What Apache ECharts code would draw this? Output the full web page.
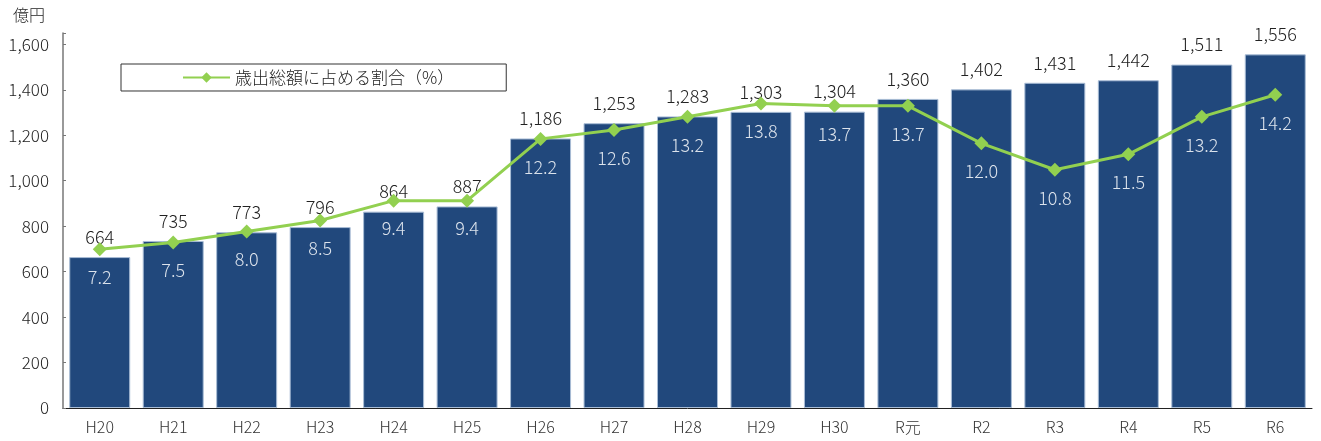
<!DOCTYPE html>
<html>
<head>
<meta charset="utf-8">
<script src="https://cdn.jsdelivr.net/npm/echarts@6/dist/echarts.min.js"></script>
<style>
html,body{margin:0;padding:0;background:#fff;}
#c{width:1321px;height:441px;}
</style>
</head>
<body>
<div id="c"></div>
<script>
const categories = ['H20','H21','H22','H23','H24','H25','H26','H27','H28','H29','H30','R元','R2','R3','R4','R5','R6'];
const amounts = [664,735,773,796,864,887,1186,1253,1283,1303,1304,1360,1402,1431,1442,1511,1556];
const shares = [7.2,7.5,8.0,8.5,9.4,9.4,12.2,12.6,13.2,13.8,13.7,13.7,12.0,10.8,11.5,13.2,14.2];
const yTicks = [0,200,400,600,800,1000,1200,1400,1600];
const unitLabel = '億円';
const lineName = '歳出総額に占める割合（%）';

const FONT = '"Noto Sans CJK JP", "Noto Sans", sans-serif';
const W = 300;
const chart = echarts.init(document.getElementById('c'), null, {renderer:'canvas'});
chart.setOption({
  animation: false,
  textStyle: {fontFamily: FONT, fontWeight: W},
  title: {
    text: unitLabel, left: 8, top: 2,
    textStyle: {fontSize: 16, fontWeight: W, color: '#222', fontFamily: FONT}
  },
  legend: {
    data: [lineName],
    left: 121, top: 64,
    padding: [5, 52, 5, 61],
    borderColor: '#333', borderWidth: 1,
    itemWidth: 47, itemHeight: 13,
    textStyle: {fontSize: 17, fontWeight: W, color: '#222', fontFamily: FONT}
  },
  grid: {left: 63, right: 9, top: 33, bottom: 33},
  xAxis: {
    type: 'category', data: categories,
    axisLine: {lineStyle: {color: '#222', width: 1}},
    axisTick: {inside: true, length: 4, lineStyle: {color: '#444'}},
    axisLabel: {fontSize: 16, fontWeight: W, color: '#333', margin: 11, fontFamily: FONT}
  },
  yAxis: [{
    type: 'value', min: 0, max: 1650, interval: 200,
    axisLine: {show: true, lineStyle: {color: '#777', width: 1.5}},
    axisTick: {show: true, inside: true, length: 3, lineStyle: {color: '#777'}},
    splitLine: {show: false},
    axisLabel: {
      fontSize: 17, fontWeight: W, color: '#222', margin: 14, fontFamily: FONT,
      formatter: v => yTicks.indexOf(v) >= 0 ? v.toLocaleString('en-US') : ''
    }
  }, {
    type: 'value', min: 0, max: 17, show: false, splitLine: {show: false}
  }],
  series: [{
    name: '金額', type: 'bar', data: amounts,
    barCategoryGap: '17%',
    itemStyle: {color: '#21487C', borderColor: '#A9BDD6', borderWidth: 1},
    label: {
      show: true, position: 'top', distance: 11,
      fontSize: 18, fontWeight: W, color: '#222', fontFamily: FONT,
      formatter: p => p.value.toLocaleString('en-US')
    }
  }, {
    name: lineName, type: 'line', yAxisIndex: 1, data: shares,
    symbol: 'diamond', symbolSize: 14,
    lineStyle: {color: '#92D050', width: 3},
    itemStyle: {color: '#92D050'},
    label: {
      show: true, position: 'bottom', distance: 12,
      fontSize: 18, fontWeight: W, color: '#DCE3EC', fontFamily: FONT,
      formatter: p => p.value.toFixed(1)
    },
    z: 5
  }]
});
</script>
</body>
</html>
